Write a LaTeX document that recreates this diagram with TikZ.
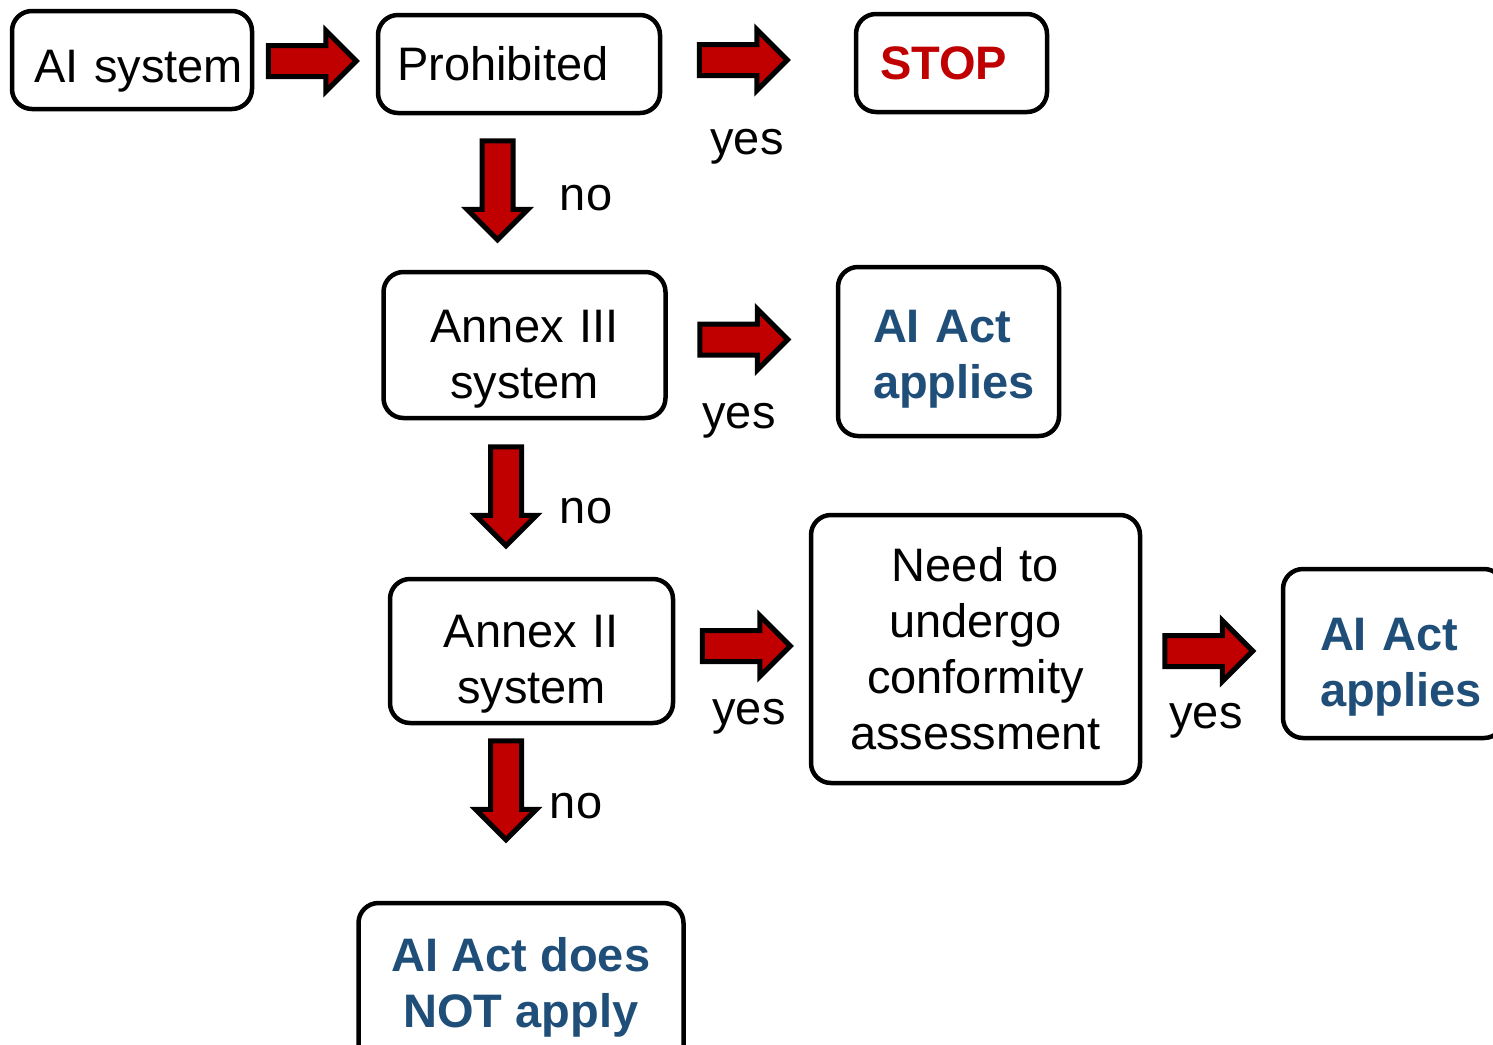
\documentclass[tikz,border=0pt]{standalone}
\usepackage{fontspec}
\setmainfont{Liberation Sans}
\usetikzlibrary{shapes.arrows}

\definecolor{actred}{RGB}{192,0,0}
\definecolor{actblue}{RGB}{31,78,121}

\tikzset{every picture/.style={line width=0.75pt}}

\begin{document}
\begin{tikzpicture}[x=0.5pt,y=0.5pt,yscale=-1,
  txt/.style={font=\fontsize{23.5}{28}\selectfont},
  box/.style={txt, draw, line width=2.25pt, rounded corners=10pt, inner sep=0pt, align=center},
  leftbox/.style={box, align=left, inner xsep=#1},
  drop/.style={execute at begin node={\rule{0pt}{#1}}},
  verdict/.style={font=\fontsize{23.5}{28}\selectfont\bfseries, text=actblue},
  blockarrow/.style={single arrow, draw, fill=actred, line width=2.5pt, inner xsep=0pt, inner ysep=6.5pt,
    single arrow head extend=7.5pt, minimum height=#1},
  blockarrow/.default=44pt,
  downarrow/.style={blockarrow=49.5pt, rotate=-90},
  lbl/.style={txt, inner sep=0pt}]
\useasboundingbox (0,0) rectangle (1493,1044);

% boxes
\node [leftbox=11pt, text width=98pt, minimum height=49pt, drop=27pt] (sys) at (132,60) {\mbox{AI system}};
\node [leftbox=9.5pt, text width=122pt, minimum height=49pt] (proh) at (519,64) {Prohibited};
\node [leftbox=12pt, text width=71.5pt, minimum height=49pt, font=\fontsize{23.5}{28}\selectfont\bfseries, text=actred] (stop) at (951.5,63) {STOP};
\node [box, text width=120pt, minimum width=141pt, minimum height=73pt, drop=30pt] (annIII) at (524.5,345) {Annex III\\system};
\node [leftbox=17.5pt, text width=75.5pt, minimum height=84.5pt, verdict, drop=24pt] (appI) at (948.5,351.5) {AI Act\\applies};
\node [box, text width=120pt, minimum width=141.5pt, minimum height=72pt, drop=29pt] (annII) at (531.5,651) {Annex II\\system};
\node [box, text width=150pt, minimum width=164.5pt, minimum height=134pt] (conf) at (975.5,649) {Need to\\undergo\\conformity\\assessment};
\node [leftbox=18.5pt, text width=73.5pt, minimum height=84.5pt, verdict, drop=30pt] (appII) at (1393.5,653.5) {AI Act\\applies};
\node [box, minimum width=162.5pt, minimum height=84.5pt, verdict] (notapp) at (521,987.5) {AI Act does\\NOT apply};

% block arrows
\node [blockarrow] (aProh) at (304.5,61) {};
\node [blockarrow] (aStop) at (735.5,60) {};
\node [downarrow] (dIII) at (497.5,182.5) {};
\node [blockarrow] (aAppI) at (736,339.5) {};
\node [downarrow] (dII) at (506,488.5) {};
\node [blockarrow] (aConf) at (738.5,646) {};
\node [blockarrow] (aAppII) at (1201,651) {};
\node [downarrow] (dNot) at (506,782.5) {};

% answers
\node [lbl] (yesI) at (747,147) {yes};
\node [lbl] (noI) at (586,198) {no};
\node [lbl] (yesII) at (739,421) {yes};
\node [lbl] (noII) at (586,511) {no};
\node [lbl] (yesIII) at (749,717) {yes};
\node [lbl] (yesIV) at (1206,721) {yes};
\node [lbl] (noIII) at (576,806) {no};

\end{tikzpicture}
\end{document}
